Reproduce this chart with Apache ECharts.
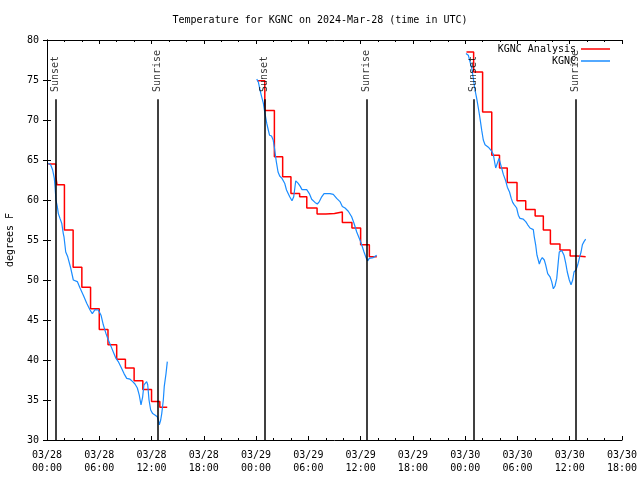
<!DOCTYPE html>
<html><head><meta charset="utf-8">
<script src="https://cdn.jsdelivr.net/npm/echarts@6/dist/echarts.min.js"></script>
<style>html,body{margin:0;padding:0;background:#fff}#c{width:640px;height:480px}</style>
</head><body><div id="c"></div>
<script>
// x values are hours after 2024-03-28 00:00 UTC
const titleText = 'Temperature for KGNC on 2024-Mar-28 (time in UTC)';
const yName = 'degrees F';
const startUTC = Date.UTC(2024, 2, 28);
const xMin = 0, xMax = 66, xStep = 6;
const yMin = 30, yMax = 80, yStep = 5;

// KGNC Analysis (hourly steps)
const anaT1 = [0.15, 1.0, 1.15, 2.0, 3.0, 4.0, 5.0, 6.0, 7.0, 8.0, 9.0, 10.0, 11.0, 12.0, 12.95, 13.8];
const anaV1 = [64.5, 63.0, 61.9, 56.25, 51.6, 49.1, 46.4, 43.8, 41.9, 40.1, 39.0, 37.4, 36.3, 34.8, 34.1, 34.1];
const anaT2 = [24.1, 25.0, 26.1, 27.05, 28.0, 29.0, 29.82, 31.0, 32.0, 33.0, 33.9, 35.0, 36.0, 37.0, 37.85];
const anaV2 = [74.9, 71.2, 65.4, 62.9, 60.8, 60.4, 59.0, 58.25, 58.3, 58.5, 57.2, 56.5, 54.4, 52.9, 52.9];
const anaT3 = [48.15, 48.97, 50.0, 51.05, 51.94, 52.83, 53.95, 54.95, 56.03, 56.97, 57.78, 58.88, 60.05, 60.9, 61.83];
const anaV3 = [78.5, 76.0, 71.0, 65.6, 64.0, 62.2, 59.9, 58.8, 58.0, 56.25, 54.5, 53.75, 53.0, 52.9, 52.9];

// KGNC observations
const obsT1 = [0.15,0.42,0.65,0.84,0.92,1.03,1.18,1.30,1.49,1.69,1.87,1.95,2.15,2.38,2.56,2.72,3.02,3.48,3.79,4.17,4.56,4.94,5.2,5.51,5.89,6.2,6.46,6.77,7.04,7.35,7.61,7.92,8.18,8.46,8.84,9.15,9.53,9.84,10.1,10.37,10.59,10.79,10.98,11.13,11.44,11.56,11.71,11.9,12.13,12.43,12.66,12.78,12.89,13.05,13.17,13.35,13.46,13.66,13.81];
const obsV1 = [64.6,64.4,63.75,62.7,61.7,60.0,59.2,58.3,57.7,57.1,55.8,55.4,53.5,52.9,52.8,51.5,50.0,49.8,49.0,48.1,47.1,46.25,45.8,46.3,46.25,45.6,44.4,43.3,42.5,41.7,41.0,40.2,39.8,39.2,38.3,37.7,37.6,37.3,37.0,36.5,35.6,34.4,35.4,36.9,37.3,36.9,35.0,33.75,33.3,33.1,32.9,32.5,31.9,32.5,33.3,35.0,36.7,38.3,39.8];
const obsT2 = [24.07,24.25,24.45,24.64,24.83,25.02,25.22,25.4,25.54,25.77,25.96,26.11,26.23,26.32,26.52,26.71,26.97,27.28,27.49,27.86,28.12,28.32,28.55,28.81,29.07,29.27,29.81,30.11,30.38,30.76,31.03,31.26,31.53,31.8,32.48,32.86,33.25,33.63,33.9,34.21,34.58,34.97,35.24,35.55,35.85,36.12,36.39,36.62,36.81,36.99,37.45,37.84];
const obsV2 = [75.1,74.8,73.75,72.9,72.1,70.8,69.6,68.75,68.1,68.0,67.5,66.5,65.5,64.8,63.5,63.0,62.7,62.1,61.25,60.4,59.9,60.4,62.4,62.1,61.7,61.3,61.3,60.8,60.1,59.7,59.5,59.8,60.4,60.8,60.8,60.7,60.2,59.8,59.2,59.0,58.6,57.9,57.1,56.0,55.2,54.4,53.5,52.8,52.4,52.7,52.8,53.1];
const obsT3 = [48.09,48.36,48.55,48.75,48.93,49.13,49.32,49.51,49.7,49.9,50.08,50.28,50.66,51.04,51.23,51.34,51.5,51.69,51.88,52.11,52.38,52.65,52.84,53.09,53.29,53.45,53.64,53.91,54.1,54.29,54.67,54.95,55.18,55.44,55.82,55.93,56.09,56.24,56.39,56.51,56.67,56.85,57.08,57.24,57.47,57.74,57.93,58.12,58.31,58.51,58.69,58.8,59.08,59.34,59.54,59.72,59.95,60.15,60.34,60.49,60.72,60.92,61.1,61.3,61.45,61.64,61.83];
const obsV3 = [78.3,78.1,77.3,76.5,75.2,73.75,72.7,71.5,70.2,68.7,67.5,66.9,66.6,66.1,65.7,65.0,64.0,64.6,65.2,64.3,63.2,62.4,61.6,61.0,60.2,59.7,59.4,59.0,58.1,57.7,57.6,57.3,56.9,56.5,56.3,55.4,54.4,53.1,52.5,52.0,52.5,52.8,52.5,51.9,50.8,50.4,49.8,48.9,49.25,50.2,52.3,53.5,53.7,53.1,52.1,51.0,50.0,49.4,50.0,51.0,51.25,51.9,52.7,53.5,54.4,54.8,55.1];

// Sunset / sunrise times
const sunT = [0.95, 12.66, 24.94, 36.65, 48.93, 60.64];
const sunNames = ['Sunset', 'Sunrise', 'Sunset', 'Sunrise', 'Sunset', 'Sunrise'];

const FONT = 'DejaVu Sans Mono';
const lineTop = 72.6, labelBase = 73.5;
const RED = '#ff0000', BLUE = '#1a8cff';

const zip = (t, v) => t.map((x, i) => [x, v[i]]);
const pad = n => String(n).padStart(2, '0');
const fmtX = v => {
  const d = new Date(startUTC + v * 3600e3);
  return pad(d.getUTCMonth() + 1) + '/' + pad(d.getUTCDate()) + '\n' + pad(d.getUTCHours()) + ':' + pad(d.getUTCMinutes());
};

const anaSegs = [zip(anaT1, anaV1), zip(anaT2, anaV2), zip(anaT3, anaV3)];
const obsSegs = [zip(obsT1, obsV1), zip(obsT2, obsV2), zip(obsT3, obsV3)];

const series = [];
anaSegs.forEach(d => series.push({
  name: 'KGNC Analysis', type: 'line', step: 'end', data: d, symbol: 'none',
  lineStyle: { color: RED, width: 1.5 }, itemStyle: { color: RED }, z: 3
}));
obsSegs.forEach(d => series.push({
  name: 'KGNC', type: 'line', data: d, symbol: 'none',
  lineStyle: { color: BLUE, width: 1.2 }, itemStyle: { color: BLUE }, z: 4
}));
series.push({
  name: 'sun', type: 'scatter', symbolSize: 0, z: 5,
  data: sunT.map((t, i) => ({ name: sunNames[i], value: [t, labelBase] })),
  label: {
    show: true, position: 'inside', rotate: 90, align: 'left', verticalAlign: 'middle',
    formatter: p => p.name, color: '#000', fontFamily: FONT, fontSize: 10
  },
  markLine: {
    silent: true, symbol: ['none', 'none'], label: { show: false },
    lineStyle: { color: '#000', width: 1.5, type: 'solid' },
    data: sunT.map(t => [{ coord: [t, yMin] }, { coord: [t, lineTop] }])
  }
});

const xBase = {
  type: 'value', min: xMin, max: xMax, interval: xStep,
  axisLine: { show: true, lineStyle: { color: '#000', width: 1 } },
  axisTick: { show: true, inside: true, length: 4, lineStyle: { color: '#000' } },
  minorTick: { show: true, splitNumber: 3, length: 2, lineStyle: { color: '#000' } },
  splitLine: { show: false }
};
const yBase = {
  type: 'value', min: yMin, max: yMax, interval: yStep,
  axisLine: { show: true, lineStyle: { color: '#000', width: 1 } },
  axisTick: { show: true, inside: true, length: 4, lineStyle: { color: '#000' } },
  splitLine: { show: false }
};

const legendCommon = {
  orient: 'vertical', right: 30, align: 'right', padding: 0,
  icon: 'rect', itemWidth: 29, itemHeight: 1.5, selectedMode: false,
  textStyle: { fontFamily: FONT, fontSize: 10, color: '#000' }
};

const chart = echarts.init(document.getElementById('c'), null, { renderer: 'canvas' });
chart.setOption({
  animation: false,
  backgroundColor: '#fff',
  title: {
    text: titleText, left: 'center', top: 10,
    textStyle: { fontFamily: FONT, fontSize: 10, fontWeight: 'normal', color: '#000' }
  },
  legend: [
    Object.assign({}, legendCommon, { top: 44, data: [{ name: 'KGNC Analysis', itemStyle: { color: RED } }] }),
    Object.assign({}, legendCommon, { top: 56, data: [{ name: 'KGNC', itemStyle: { color: BLUE } }] })
  ],
  grid: { left: 47, right: 18, top: 40, bottom: 40, containLabel: false, outerBoundsMode: 'none' },
  xAxis: [
    Object.assign({}, xBase, {
      position: 'bottom',
      axisLabel: { formatter: fmtX, fontFamily: FONT, fontSize: 10, color: '#000', lineHeight: 13, margin: 9 }
    }),
    Object.assign({}, xBase, { position: 'top', axisLabel: { show: false } })
  ],
  yAxis: [
    Object.assign({}, yBase, {
      position: 'left', name: yName, nameLocation: 'middle', nameGap: 32, nameRotate: 90,
      nameTextStyle: { fontFamily: FONT, fontSize: 10, color: '#000' },
      axisLabel: { fontFamily: FONT, fontSize: 10, color: '#000', margin: 8 }
    }),
    Object.assign({}, yBase, { position: 'right', axisLabel: { show: false } })
  ],
  series: series
});
</script>
</body></html>
